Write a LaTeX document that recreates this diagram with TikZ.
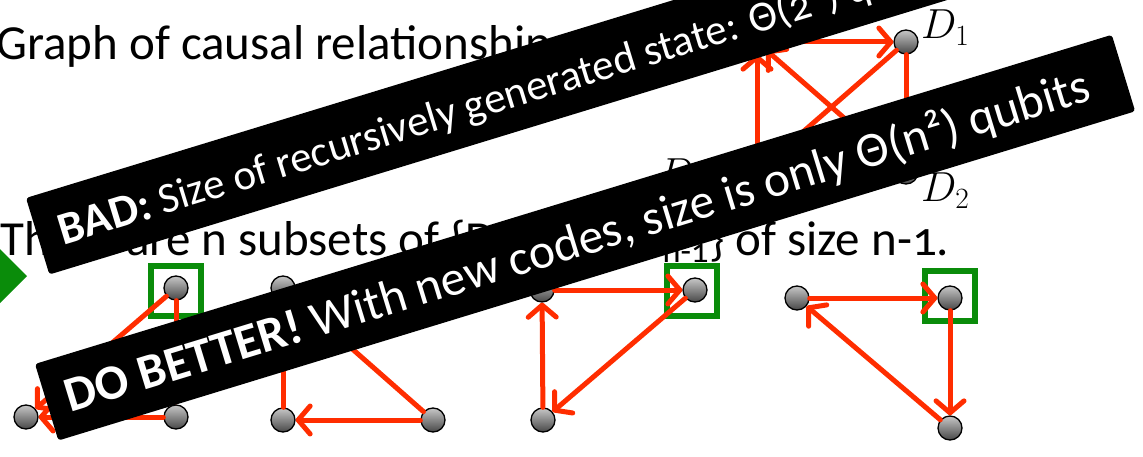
\RequirePackage{fix-cm}
\documentclass[tikz,border=0pt]{standalone}
\usepackage{fontspec}
\setmainfont{Carlito}[Numbers=OldStyle]
\usetikzlibrary{arrows.meta}
\definecolor{edgered}{RGB}{255,45,0}
\definecolor{boxgreen}{RGB}{10,140,10}
\tikzset{
  ball/.style={circle, draw=black, line width=1.3pt, minimum size=24pt, inner sep=0pt,
    top color=black!22, bottom color=black!72},
  edge/.style={draw=edgered, line width=5pt, line cap=round,
    -{Straight Barb[length=12pt,width=28pt,line cap=round,line join=round]}},
  selbox/.style={draw=boxgreen, line width=6pt, minimum size=50pt, inner sep=0pt},
  banner/.style={fill=black, rounded corners=3pt},
  bannertext/.style={text=white, anchor=base west, inner sep=0pt, transform shape},
  bodytext/.style={font=\fontsize{49}{49}\selectfont, anchor=base west, inner sep=0pt},
  mathlabel/.style={font=\fontsize{42}{42}\selectfont, inner sep=0pt},
}
\begin{document}
\begin{tikzpicture}[x=1pt,y=-1pt]
\useasboundingbox (0,0) rectangle (1143,457);
\clip (0,0) rectangle (1143,457);

% body text
\node[bodytext] (t1) at (-4,60) {Graph of causal relationships:};
\node[bodytext] (t2) at (0,255) {There are n subsets of \{D\textsubscript{0},D\textsubscript{1},\dots,D\textsubscript{n-1}\} of size n-1.};

% green bullet
\fill[boxgreen] (27,276) -- (-5,244) -- (-37,276) -- (-5,308) -- cycle;

% top graph
\node[ball] (TL) at (757,42) {};
\node[ball] (D1) at (906,42) {};
\node[ball] (BL) at (757,172) {};
\node[ball] (D2) at (906,172) {};
\node[mathlabel, anchor=base west] (lD1) at (921,39) {$D_1$};
\node[mathlabel, anchor=base west] (lD2) at (921,202) {$D_2$};
\node[mathlabel, anchor=base east] (lBL) at (707,188) {$D_3$};
\node[mathlabel, anchor=base east] (lTL) at (707,60) {$D_0$};
\draw[edge] (TL) -- (D1);
\draw[edge] (BL) -- (TL);
\draw[edge] (D2) -- (TL);
\draw[edge] (D1) -- (BL);
\draw[edge] (D1) -- (D2);
\draw[edge] (D2) -- (BL);

% subset graph 1
\node[selbox] (s1) at (176,291) {};
\node[ball] (a1) at (176,288) {};
\node[ball] (a2) at (26,417) {};
\node[ball] (a3) at (176,417) {};
\draw[edge] (a1) -- (a2);
\draw[edge] (a1) -- (a3);
\draw[edge] (a3) -- (a2);

% subset graph 2
\node[ball] (b1) at (283,288) {};
\node[ball] (b2) at (283,420) {};
\node[ball] (b3) at (433,420) {};
\draw[edge] (b2) -- (b1);
\draw[edge] (b3) -- (b1);
\draw[edge] (b3) -- (b2);

% subset graph 3
\node[selbox] (s3) at (692,291) {};
\node[ball] (c1) at (542,290) {};
\node[ball] (c2) at (695,290) {};
\node[ball] (c3) at (543,420) {};
\draw[edge] (c1) -- (c2);
\draw[edge] (c3) -- (c1);
\draw[edge] (c2) -- (c3);

% subset graph 4
\node[selbox] (s4) at (950,296) {};
\node[ball] (d1) at (797,298) {};
\node[ball] (d2) at (950,298) {};
\node[ball] (d3) at (950,428) {};
\draw[edge] (d1) -- (d2);
\draw[edge] (d2) -- (d3);
\draw[edge] (d3) -- (d1);

% banners
\begin{scope}[shift={(26,198)}, rotate=17]
  \fill[banner] (0,0) rectangle (1300,80);
  \node[bannertext, font=\fontsize{43}{43}\selectfont] (bad) at (22,56)
    {\fontsize{46}{46}\selectfont\textbf{BAD:}\fontsize{43}{43}\selectfont{} Size of recursively generated state: Θ(2\textsuperscript{n}) qubits};
\end{scope}
\begin{scope}[shift={(35,364)}, rotate=17]
  \fill[banner] (0,0) rectangle (1126,80);
  \node[bannertext, font=\fontsize{49.5}{49.5}\selectfont] (better) at (20,57)
    {\textbf{DO BETTER!} With new codes, size is only Θ(n²) qubits};
\end{scope}
\end{tikzpicture}
\end{document}
